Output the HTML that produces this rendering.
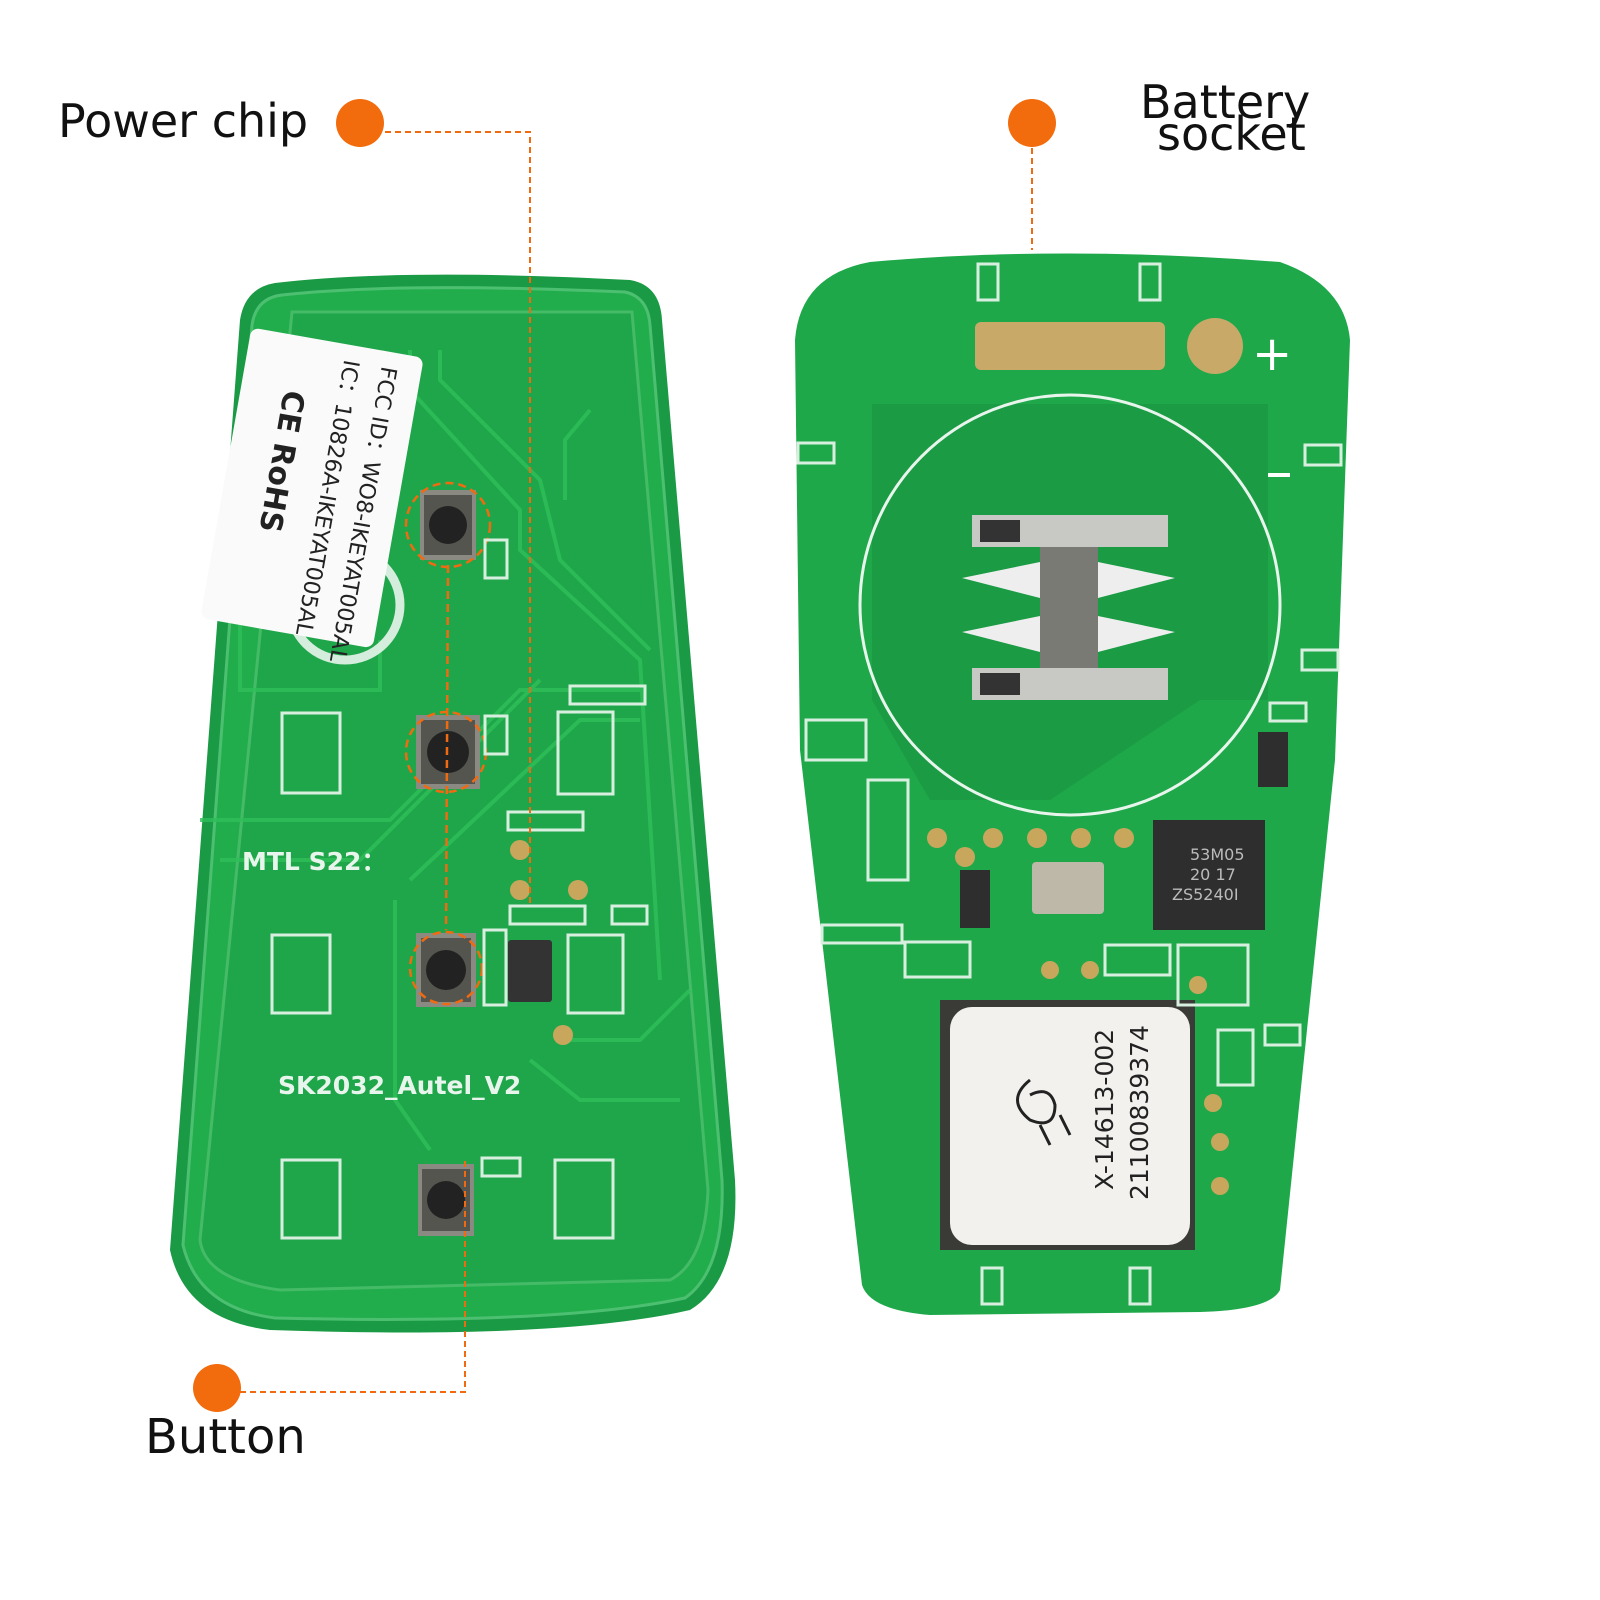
<!DOCTYPE html>
<html><head><meta charset="utf-8"><style>
html,body{margin:0;padding:0;background:#fff;width:1600px;height:1600px;overflow:hidden}
svg{display:block}
text{font-family:"DejaVu Sans","Liberation Sans",sans-serif}
</style></head><body>
<svg width="1600" height="1600" viewBox="0 0 1600 1600" xmlns="http://www.w3.org/2000/svg">
<rect width="1600" height="1600" fill="#fff"/>
<!-- LEFT PCB -->
<path d="M275,283 Q400,268 630,280 Q660,285 662,320 L735,1180 Q740,1280 690,1310 Q560,1340 270,1330 Q185,1320 170,1250 L240,320 Q245,288 275,283 Z" fill="#1a9a44"/>
<path d="M282,295 Q400,282 625,292 Q648,297 650,325 L722,1180 Q725,1270 685,1298 Q560,1325 275,1318 Q198,1308 183,1245 L252,325 Q256,298 282,295 Z" fill="#22ad4c" stroke="#4cc070" stroke-width="3"/>
<path d="M292,312 L632,312 L708,1190 Q705,1262 670,1280 L280,1290 Q205,1280 200,1240 Z" fill="#1fa64a" stroke="#45bb68" stroke-width="3"/>
<g fill="none" stroke="#2fbf5a" stroke-width="4" opacity=".8">
<path d="M410,350 L410,390 L520,510 L520,550 L640,660 L660,980"/>
<path d="M440,350 L440,380 L540,480 L560,560 L650,650"/>
<path d="M200,820 L390,820 L520,690 L640,690"/>
<path d="M220,860 L360,860 L540,680"/>
<path d="M395,900 L395,1100 L430,1150"/>
<path d="M410,880 L580,720 L640,720"/>
<path d="M560,1040 L640,1040 L690,990"/>
<path d="M530,1060 L580,1100 L680,1100"/>
<path d="M565,500 L565,440 L590,410"/>
<path d="M240,620 L240,690 L380,690 L380,640"/>
</g>
<circle cx="345" cy="605" r="55" fill="none" stroke="#e8f5ec" stroke-width="9" opacity=".9"/>
<g transform="rotate(10 310 485)">
<rect x="225" y="340" width="175" height="295" rx="8" fill="#fafafa"/>
<text transform="translate(360,355) rotate(90)" font-size="22" fill="#222">FCC ID：WO8-IKEYAT005AL</text>
<text transform="translate(322,355) rotate(90)" font-size="22" fill="#222">IC：10826A-IKEYAT005AL</text>
<text transform="translate(268,395) rotate(90)" font-size="30" fill="#222" font-weight="bold">CE  RoHS</text>
</g>
<g>
<g transform="translate(448,525)"><rect x="-28" y="-35" width="56" height="70" fill="#8a8a82"/><rect x="-24" y="-30" width="48" height="60" fill="#55554f"/><circle r="19" fill="#222"/></g>
<g transform="translate(448,752)"><rect x="-32" y="-37" width="64" height="74" fill="#8a8a82"/><rect x="-27" y="-32" width="54" height="64" fill="#55554f"/><circle r="21" fill="#222"/></g>
<g transform="translate(446,970)"><rect x="-30" y="-37" width="60" height="74" fill="#8a8a82"/><rect x="-25" y="-32" width="50" height="64" fill="#55554f"/><circle r="20" fill="#222"/></g>
<g transform="translate(446,1200)"><rect x="-28" y="-36" width="56" height="72" fill="#8a8a82"/><rect x="-24" y="-31" width="48" height="62" fill="#55554f"/><circle r="19" fill="#222"/></g>
</g>
<g fill="none" stroke="#f06a12" stroke-width="2.5" stroke-dasharray="8,5">
<circle cx="448" cy="525" r="42"/><circle cx="446" cy="752" r="40"/><circle cx="446" cy="968" r="36"/>
<line x1="448" y1="565" x2="446" y2="930"/>
</g>
<g fill="none" stroke="#d8efe0" stroke-width="3">
<rect x="282" y="713" width="58" height="80"/><rect x="272" y="935" width="58" height="78"/><rect x="282" y="1160" width="58" height="78"/>
<rect x="558" y="712" width="55" height="82"/><rect x="568" y="935" width="55" height="78"/><rect x="555" y="1160" width="58" height="78"/>
<rect x="570" y="686" width="75" height="18"/><rect x="508" y="812" width="75" height="18"/><rect x="510" y="906" width="75" height="18"/>
<rect x="485" y="540" width="22" height="38"/><rect x="485" y="716" width="22" height="38"/><rect x="484" y="930" width="22" height="75"/>
<rect x="482" y="1158" width="38" height="18"/><rect x="612" y="906" width="35" height="18"/>
</g>
<rect x="508" y="940" width="44" height="62" fill="#333" rx="3"/>
<g fill="#c8a75c"><circle cx="520" cy="850" r="10"/><circle cx="520" cy="890" r="10"/><circle cx="578" cy="890" r="10"/><circle cx="563" cy="1035" r="10"/></g>
<text x="242" y="870" font-size="25" fill="#e8f5ec" font-weight="bold">MTL S22：</text>
<text x="278" y="1094" font-size="25" fill="#e8f5ec" font-weight="bold">SK2032_Autel_V2</text>

<!-- RIGHT PCB -->
<path d="M870,262 Q1060,245 1280,262 Q1345,285 1350,340 L1335,760 L1280,1290 Q1270,1310 1200,1312 L930,1315 Q870,1310 862,1285 L800,750 L795,340 Q800,275 870,262 Z" fill="#1ea84a"/>
<rect x="975" y="322" width="190" height="48" rx="6" fill="#c9a968"/>
<circle cx="1215" cy="346" r="28" fill="#c9a968"/>
<circle cx="1215" cy="482" r="28" fill="#c9a968"/>
<text x="1252" y="370" font-size="48" fill="#fff">+</text>
<rect x="1258" y="473" width="32" height="4" fill="#fff"/>
<path d="M872,404 L1268,404 L1268,700 L1200,700 L1050,800 L930,800 L872,700 Z" fill="#1a9b44"/>
<circle cx="1070" cy="605" r="210" fill="none" stroke="#e8f5ec" stroke-width="3"/>
<rect x="1040" y="518" width="58" height="180" fill="#7a7a75"/>
<rect x="972" y="515" width="196" height="32" fill="#c8c8c4"/><rect x="972" y="668" width="196" height="32" fill="#c8c8c4"/>
<rect x="980" y="520" width="40" height="22" fill="#333"/><rect x="980" y="673" width="40" height="22" fill="#333"/>
<path d="M962,578 L1040,562 L1040,598 Z M962,632 L1040,616 L1040,652 Z M1175,578 L1098,562 L1098,598 Z M1175,632 L1098,616 L1098,652 Z" fill="#eee"/>
<rect x="1153" y="820" width="112" height="110" fill="#2e2e2e"/>
<text x="1190" y="860" font-size="16" fill="#bbb">53M05</text>
<text x="1190" y="880" font-size="16" fill="#bbb">20 17</text>
<text x="1172" y="900" font-size="16" fill="#bbb">ZS5240I</text>
<rect x="1032" y="862" width="72" height="52" rx="4" fill="#bdb8a8"/>
<rect x="960" y="870" width="30" height="58" fill="#2e2e2e"/>
<rect x="1258" y="732" width="30" height="55" fill="#2e2e2e"/>
<g fill="#c8a75c"><circle cx="937" cy="838" r="10"/><circle cx="993" cy="838" r="10"/><circle cx="1037" cy="838" r="10"/><circle cx="1081" cy="838" r="10"/><circle cx="1124" cy="838" r="10"/><circle cx="965" cy="857" r="10"/><circle cx="1050" cy="970" r="9"/><circle cx="1090" cy="970" r="9"/><circle cx="1198" cy="985" r="9"/><circle cx="1213" cy="1103" r="9"/><circle cx="1220" cy="1142" r="9"/><circle cx="1220" cy="1186" r="9"/></g>
<rect x="940" y="1000" width="255" height="250" fill="#3a3a36"/>
<rect x="950" y="1007" width="240" height="238" rx="22" fill="#f2f1ee"/>
<text transform="translate(1113,1190) rotate(-90)" font-size="25" fill="#222">X-14613-002</text>
<text transform="translate(1148,1200) rotate(-90)" font-size="25" fill="#222">21100839374</text>
<path d="M1030,1080 q-25,20 0,40 q25,10 25,-15 q-5,-20 -25,-10 M1040,1125 l10,20 M1060,1115 l10,20" fill="none" stroke="#222" stroke-width="3"/>
<g fill="none" stroke="#d8efe0" stroke-width="3">
<rect x="978" y="264" width="20" height="36"/><rect x="1140" y="264" width="20" height="36"/>
<rect x="798" y="443" width="36" height="20"/><rect x="1305" y="445" width="36" height="20"/><rect x="1302" y="650" width="36" height="20"/>
<rect x="982" y="1268" width="20" height="36"/><rect x="1130" y="1268" width="20" height="36"/>
<rect x="806" y="720" width="60" height="40"/><rect x="822" y="925" width="80" height="18"/><rect x="905" y="942" width="65" height="35"/>
<rect x="1105" y="945" width="65" height="30"/><rect x="1178" y="945" width="70" height="60"/><rect x="1218" y="1030" width="35" height="55"/><rect x="1265" y="1025" width="35" height="20"/>
<rect x="868" y="780" width="40" height="100"/><rect x="1270" y="703" width="36" height="18"/>
</g>

<g fill="none" stroke="#f06a12" stroke-width="2" stroke-dasharray="6,4">
<polyline points="385,132 530,132 530,905"/>
<line x1="1032" y1="148" x2="1032" y2="250"/>
<polyline points="240,1392 465,1392 465,1160"/>
</g>
<g fill="#f26b0c"><circle cx="360" cy="123" r="24"/><circle cx="1032" cy="123" r="24"/><circle cx="217" cy="1388" r="24"/></g>
<text x="58" y="137" font-size="46" fill="#111">Power chip</text>
<text x="1140" y="118" font-size="46" fill="#111">Battery</text>
<text x="1157" y="150" font-size="46" fill="#111">socket</text>
<text x="145" y="1453" font-size="48" fill="#111">Button</text>
</svg>
</body></html>
